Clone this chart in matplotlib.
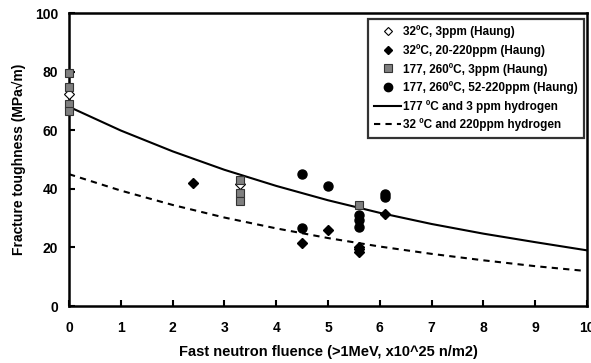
import numpy as np
import matplotlib.pyplot as plt

plt.rcParams['font.family'] = ['Liberation Sans', 'DejaVu Sans']
plt.rcParams['font.weight'] = 'bold'

# =========================
# DATA
# =========================
open_dia_x = [0.0, 3.3]
open_dia_y = [72.5, 41.5]

dia_x = [2.4, 4.5, 5.0, 5.6, 5.6, 5.6, 6.1]
dia_y = [42.0, 21.6, 25.9, 20.3, 19.4, 18.5, 31.4]

sq_x = [0.0, 0.0, 0.0, 0.0, 3.3, 3.3, 3.3, 5.6]
sq_y = [79.6, 74.8, 69.0, 66.6, 43.0, 38.5, 36.0, 34.6]

circ_x = [4.5, 4.5, 5.0, 5.6, 5.6, 5.6, 6.1, 6.1]
circ_y = [45.2, 26.7, 40.9, 31.0, 29.4, 27.0, 38.4, 37.3]

# fitted trend lines
fit_x = [0, 1, 2, 3, 4, 5, 6, 7, 8, 9, 10]
solid_y = [68.0, 59.9, 52.8, 46.5, 41.0, 36.1, 31.8, 28.0, 24.7, 21.8, 19.0]
dash_x = [0, 1, 2, 3, 4, 5, 6, 7, 8, 9, 9.95]
dash_y = [45.0, 39.4, 34.5, 30.2, 26.5, 23.2, 20.3, 17.8, 15.6, 13.6, 12.0]

labels = [
    "32ºC, 3ppm (Haung)",
    "32ºC, 20-220ppm (Haung)",
    "177, 260ºC, 3ppm (Haung)",
    "177, 260ºC, 52-220ppm (Haung)",
    "177 ºC and 3 ppm hydrogen",
    "32 ºC and 220ppm hydrogen",
]

# =========================
# PLOT
# =========================
fig = plt.figure(figsize=(5.91, 3.63), dpi=100)
ax = fig.add_axes([0.1168, 0.157, 0.8764, 0.807])

h1, = ax.plot(open_dia_x, open_dia_y, linestyle='none', marker='D', ms=5.5,
              mfc='white', mec='black', mew=0.8, zorder=3, clip_on=False)
h2, = ax.plot(dia_x, dia_y, linestyle='none', marker='D', ms=5.5,
              mfc='black', mec='black', zorder=4, clip_on=False)
h3, = ax.plot(sq_x, sq_y, linestyle='none', marker='s', ms=6,
              mfc='#808080', mec='#333333', mew=0.8, zorder=5, clip_on=False)
h4, = ax.plot(circ_x, circ_y, linestyle='none', marker='o', ms=6.5,
              mfc='black', mec='black', zorder=4, clip_on=False)
h5, = ax.plot(fit_x, solid_y, color='black', lw=1.5, zorder=2)
h6, = ax.plot(dash_x, dash_y, color='black', lw=1.5, ls=(0, (3, 2.5)), zorder=2)

ax.set_xlim(0, 10)
ax.set_ylim(0, 100)
ax.set_xticks(range(0, 11))
ax.set_yticks(range(0, 101, 20))
ax.tick_params(direction='in', length=4, width=1.5, labelsize=10)
ax.tick_params(axis='x', pad=11)
ax.tick_params(axis='y', pad=8)
for lab in ax.get_xticklabels() + ax.get_yticklabels():
    lab.set_fontweight('bold')
for sp in ax.spines.values():
    sp.set_linewidth(1.8)

ax.set_xlabel("Fast neutron fluence (>1MeV, x10^25 n/m2)", fontsize=10.5,
              fontweight='bold', labelpad=7)
ax.set_ylabel("Fracture toughness (MPa√m)", fontsize=10, fontweight='bold',
              labelpad=6)

leg = ax.legend([h1, h2, h3, h4, h5, h6], labels, loc='upper right',
                bbox_to_anchor=(0.994, 0.98), frameon=True,
                fancybox=False, edgecolor='black', handlelength=2.3,
                handletextpad=0.1, labelspacing=0.48, borderpad=0.55,
                borderaxespad=0, numpoints=1,
                prop={'weight': 'bold', 'size': 8.5})
leg.get_frame().set_linewidth(1.6)
leg_ms = [4.5, 4.5, 5.5, 6]
for lh, m in zip(leg.legend_handles[:4], leg_ms):
    lh.set_markersize(m)

fig.savefig("out.png", dpi=100)
